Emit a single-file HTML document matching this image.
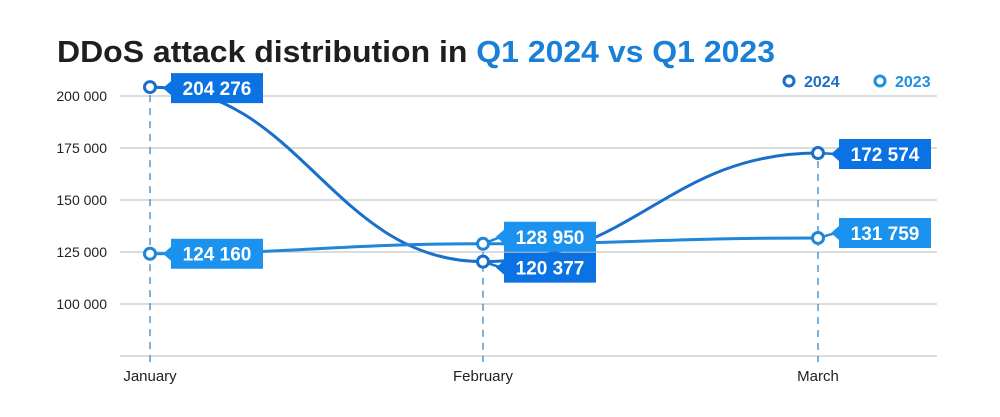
<!DOCTYPE html>
<html><head><meta charset="utf-8"><style>
html,body{margin:0;padding:0;background:#fff;width:1000px;height:417px;overflow:hidden}
svg{display:block;font-family:"Liberation Sans",sans-serif}
</style></head><body>
<svg id="chart" width="1000" height="417" viewBox="0 0 1000 417">
<text x="57" y="62" font-size="31" font-weight="bold" fill="#1f1f1f" textLength="718" lengthAdjust="spacingAndGlyphs">DDoS attack distribution in <tspan fill="#1a7fd6">Q1 2024 vs Q1 2023</tspan></text>
<g id="grid"></g><g id="marks"></g>
</svg>
<script>
const categories=["January","February","March"];
const series2024=[204276,120377,172574];
const series2023=[124160,128950,131759];
const labels2024=["204 276","120 377","172 574"];
const labels2023=["124 160","128 950","131 759"];
const yTicks=[200000,175000,150000,125000,100000,75000];
const yTickLabels=["200 000","175 000","150 000","125 000","100 000",""];
const NS="http://www.w3.org/2000/svg";
const xs=[150,483,818];
function x(i){return xs[i];}
function y(v){return 96+(200000-v)/25000*52;}
function mk(t,a,p){const e=document.createElementNS(NS,t);for(const k in a)e.setAttribute(k,a[k]);(p||document.getElementById('marks')).appendChild(e);return e;}
const grid=document.getElementById('grid');
yTicks.forEach((t,i)=>{
 const l=mk('line',{x1:120,x2:937,y1:y(t),y2:y(t),stroke:'#c8c8c8','stroke-width':1.3},grid);
 
 
 if(yTickLabels[i]){const tx=mk('text',{x:107,y:y(t)+5,'text-anchor':'end','font-size':14,fill:'#222'},grid);tx.textContent=yTickLabels[i];
 
 }
});
categories.forEach((c,i)=>{
 const top=Math.min(y(series2024[i]),y(series2023[i]));
 const d=mk('line',{x1:x(i),x2:x(i),y1:top+8,y2:362,stroke:'#2a7fc0','stroke-width':1.2,'stroke-dasharray':'7,6'},grid);
 
 
 const t=mk('text',{x:x(i),y:381,'text-anchor':'middle','font-size':15,fill:'#222'},grid);t.textContent=c;
 
 
});
function curve(vals){let d='M'+x(0)+','+y(vals[0]);for(let i=1;i<vals.length;i++){const dx=(x(i)-x(i-1))*0.45;d+=' C'+(x(i-1)+dx)+','+y(vals[i-1])+' '+(x(i)-dx)+','+y(vals[i])+' '+x(i)+','+y(vals[i]);}return d;}
const layers=[];
function drawSeries(vals,labs,lineC,boxC,name,offsets){
 const p=mk('path',{d:curve(vals),fill:'none',stroke:lineC,'stroke-width':3});
 
 
 vals.forEach((v,i)=>{
  const cx=x(i),cy=y(v),by=cy+offsets[i];
  const g=mk('g',{});
  
  
  mk('line',{x1:cx,y1:cy,x2:cx+18,y2:by,stroke:lineC,'stroke-width':2.5},g);
  mk('path',{d:`M${cx+13},${by} L${cx+21},${by-7} L${cx+21},${by-15} L${cx+113},${by-15} L${cx+113},${by+15} L${cx+21},${by+15} L${cx+21},${by+7} Z`,fill:boxC},g);
  const t=mk('text',{x:cx+67,y:by+7,'text-anchor':'middle','font-size':19,'font-weight':'bold',fill:'#fff'},g);t.textContent=labs[i];
  const c=mk('circle',{cx:cx,cy:cy,r:5.5,fill:'#fff',stroke:lineC,'stroke-width':3});
  
  
 });
}
drawSeries(series2024,labels2024,'#1a6fc9','#0a72e3','series-2024',[1,6,1]);
drawSeries(series2023,labels2023,'#1f86d8','#1a92ee',"series-2023",[0,-7,-5]);
[[789,'2024','#1a6fc9'],[880,'2023','#1f90e0']].forEach(([lx,txt,c])=>{
 const g=mk('g',{});
 
 
 mk('circle',{cx:lx,cy:81,r:5,fill:'#fff',stroke:c,'stroke-width':3},g);
 const t=mk('text',{x:lx+15,y:87,'font-size':16,'font-weight':'bold',fill:c},g);t.textContent=txt;
});
</script>
</body></html>
